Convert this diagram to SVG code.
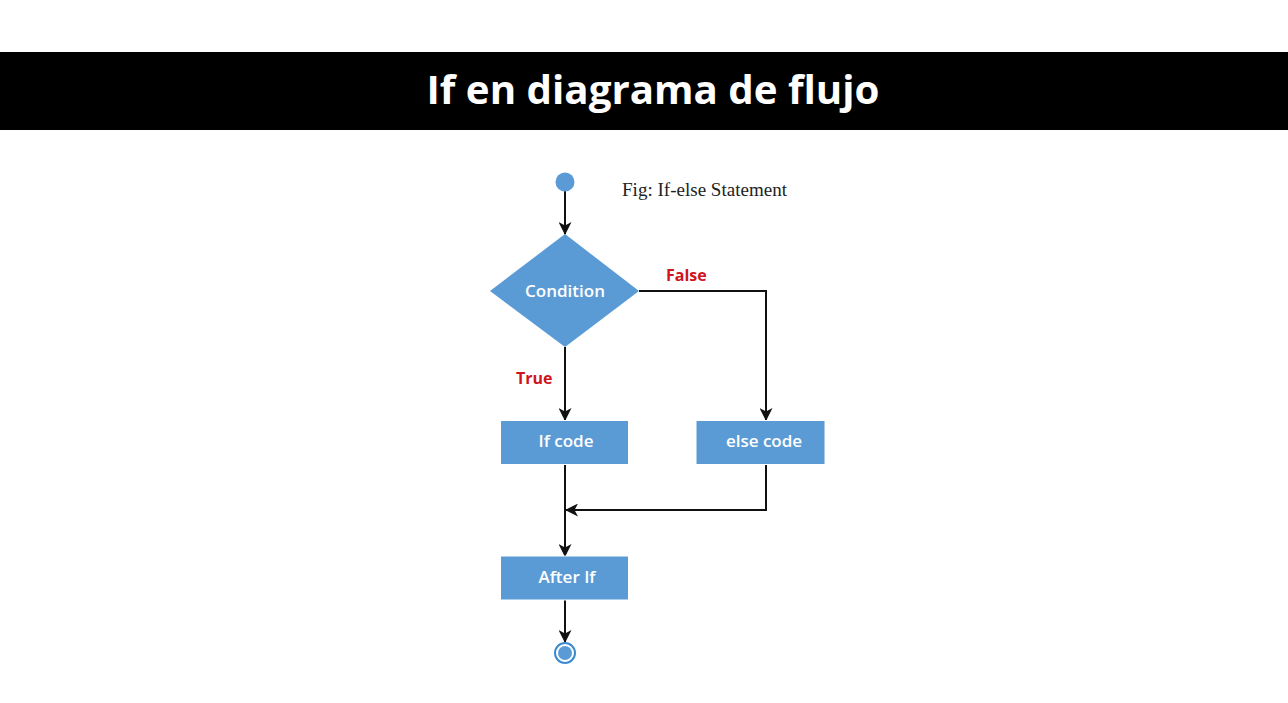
<svg xmlns="http://www.w3.org/2000/svg" width="1288" height="703" viewBox="0 0 1288 703">
<defs>
<marker id="arr" viewBox="0 0 13 13" refX="12" refY="6.5" markerWidth="13" markerHeight="13" markerUnits="userSpaceOnUse" orient="auto">
<path d="M0,0 L13,6.5 L0,13 L3.5,6.5 Z" fill="#111"/>
</marker>
<style>
.box{fill:#5B9BD5;stroke:#ffffff;stroke-width:1}
.lbl{font-family:"Open Sans","Liberation Sans",sans-serif;font-weight:600;font-size:17px;fill:#ffffff;text-anchor:middle}
.red{font-family:"Open Sans","Liberation Sans",sans-serif;font-weight:700;font-size:16px;fill:#D0141C}
.con{fill:none;stroke:#111;stroke-width:2}
</style>
</defs>
<rect width="1288" height="703" fill="#ffffff"/>
<g id="title">
<rect x="0" y="52" width="1288" height="78" fill="#000000"/>
<text x="653" y="104" font-family="'Open Sans','Liberation Sans',sans-serif" font-weight="700" font-size="39" fill="#ffffff" text-anchor="middle" textLength="453" lengthAdjust="spacingAndGlyphs">If en diagrama de flujo</text>
</g>
<g id="caption">
<text x="622" y="196" font-family="'Liberation Serif',serif" font-size="18" fill="#222" textLength="165" lengthAdjust="spacingAndGlyphs">Fig: If-else Statement</text>
</g>
<g id="connectors">
<line class="con" x1="565" y1="191" x2="565" y2="234" marker-end="url(#arr)"/>
<polyline class="con" points="639,291 766,291 766,420" marker-end="url(#arr)"/>
<line class="con" x1="565" y1="347" x2="565" y2="420" marker-end="url(#arr)"/>
<line class="con" x1="565" y1="464" x2="565" y2="556" marker-end="url(#arr)"/>
<polyline class="con" points="766,464 766,510 566,510" marker-end="url(#arr)"/>
<line class="con" x1="565" y1="600" x2="565" y2="642" marker-end="url(#arr)"/>
<text class="red" x="666" y="281">False</text>
<text class="red" x="516" y="384">True</text>
</g>
<g id="start">
<circle cx="565" cy="182" r="9.5" fill="#5B9BD5"/>
</g>
<g id="condition">
<polygon points="565,234 639,291 565,347 490,291" fill="#5B9BD5"/>
<text class="lbl" x="565" y="297">Condition</text>
</g>
<g id="ifcode">
<rect class="box" x="500.5" y="420.5" width="128" height="44"/>
<text class="lbl" x="566" y="447">If code</text>
</g>
<g id="elsecode">
<rect class="box" x="696" y="420.5" width="129" height="44"/>
<text class="lbl" x="764" y="447">else code</text>
</g>
<g id="afterif">
<rect class="box" x="500.5" y="556" width="128" height="44"/>
<text class="lbl" x="567" y="583">After If</text>
</g>
<g id="end">
<circle cx="565" cy="653" r="10" fill="#ffffff" stroke="#3A8AD0" stroke-width="2"/>
<circle cx="565" cy="653" r="7" fill="#5B9BD5"/>
</g>
</svg>
